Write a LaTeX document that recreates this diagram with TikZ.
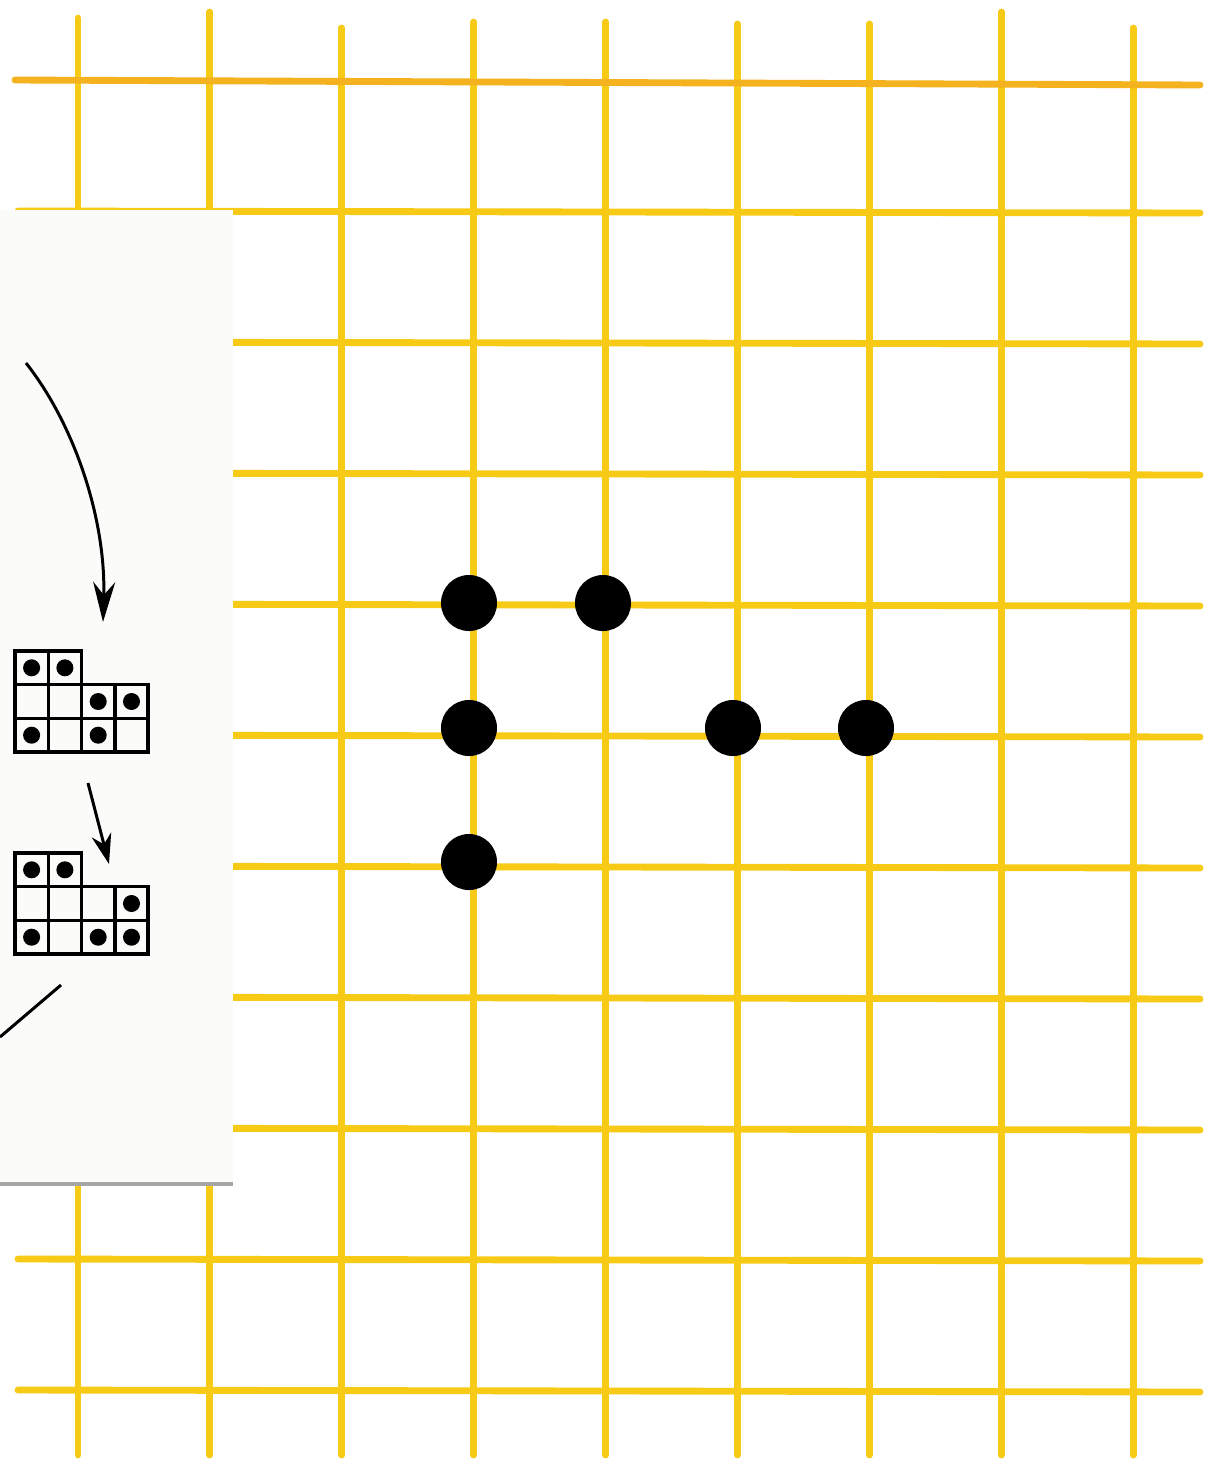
\documentclass[tikz,border=0pt]{standalone}
\usetikzlibrary{arrows.meta}
\definecolor{gridyellow}{HTML}{F7CB15}
\definecolor{gridorange}{HTML}{F3B21E}
\definecolor{paperbg}{HTML}{FBFBFA}

\begin{document}
\begin{tikzpicture}[
  x=0.01cm, y=-0.01cm, >=Stealth,
  gridline/.style={draw=gridyellow, line width=1.95pt, line cap=round},
  peg/.style={circle, fill=black, minimum size=5.6mm, inner sep=0pt},
  cell/.style={draw, line width=1pt},
  ink/.style={line width=0.85pt},
]
\useasboundingbox (0,0) rectangle (1214,1466);
\fill[white] (0,0) rectangle (1214,1466);

% board
\foreach \i/\top in {0/18,1/12,2/28,3/22,4/22,5/24,6/24,7/12,8/28}
  \draw[gridline] ({78+131.9*\i},\top) -- ({78+131.9*\i},1455);
\draw[gridline, draw=gridorange] (15,80) -- (1200,85);
\foreach \j in {1,...,10}
  \draw[gridline] (18,{80+131*\j}) -- (1200,{82+131*\j});

% pasted sheet
\fill[paperbg] (0,210) rectangle (233,1184);
\draw[gray!70, line width=1pt] (0,1184) -- (233,1184);

% small boards
\foreach \name/\oy/\pips in {before/651/{0/0,1/0,2/1,3/1,0/2,2/2},
                              after/853/{0/0,1/0,3/1,0/2,2/2,3/2}} {
  \begin{scope}[shift={(15,\oy)}]
    \coordinate (\name) at (0,0);
    \foreach \c/\r in {0/0,1/0,0/1,1/1,2/1,3/1,0/2,1/2,2/2,3/2}
      \draw[cell] ({\c*33.3},{\r*33.7}) rectangle ++(33.3,33.7);
    \foreach \c/\r in \pips
      \fill ({\c*33.3+16.6},{\r*33.7+16.8}) circle[radius=0.85mm];
  \end{scope}
}

\coordinate (s) at (26,363);
\coordinate (s1) at (103,622);
\coordinate (m) at (88,783);
\coordinate (m1) at (109,864);
\coordinate (e) at (0,1037);
\coordinate (e1) at (61,985);

\draw[ink, -{Stealth[length=4mm, width=2.2mm]}] (s) .. controls (75,425) and (106,520) .. (s1);
\draw[ink, -{Stealth[length=3mm, width=2mm]}] (m) -- (m1);
\draw[ink] (e) -- (e1);

% pegs on the board
\node[peg] (a) at (469,603) {};
\node[peg] (b) at (603,603) {};
\node[peg] (c) at (469,728) {};
\node[peg] (d) at (733,728) {};
\node[peg] (f) at (866,728) {};
\node[peg] (g) at (469,862) {};
\end{tikzpicture}
\end{document}
